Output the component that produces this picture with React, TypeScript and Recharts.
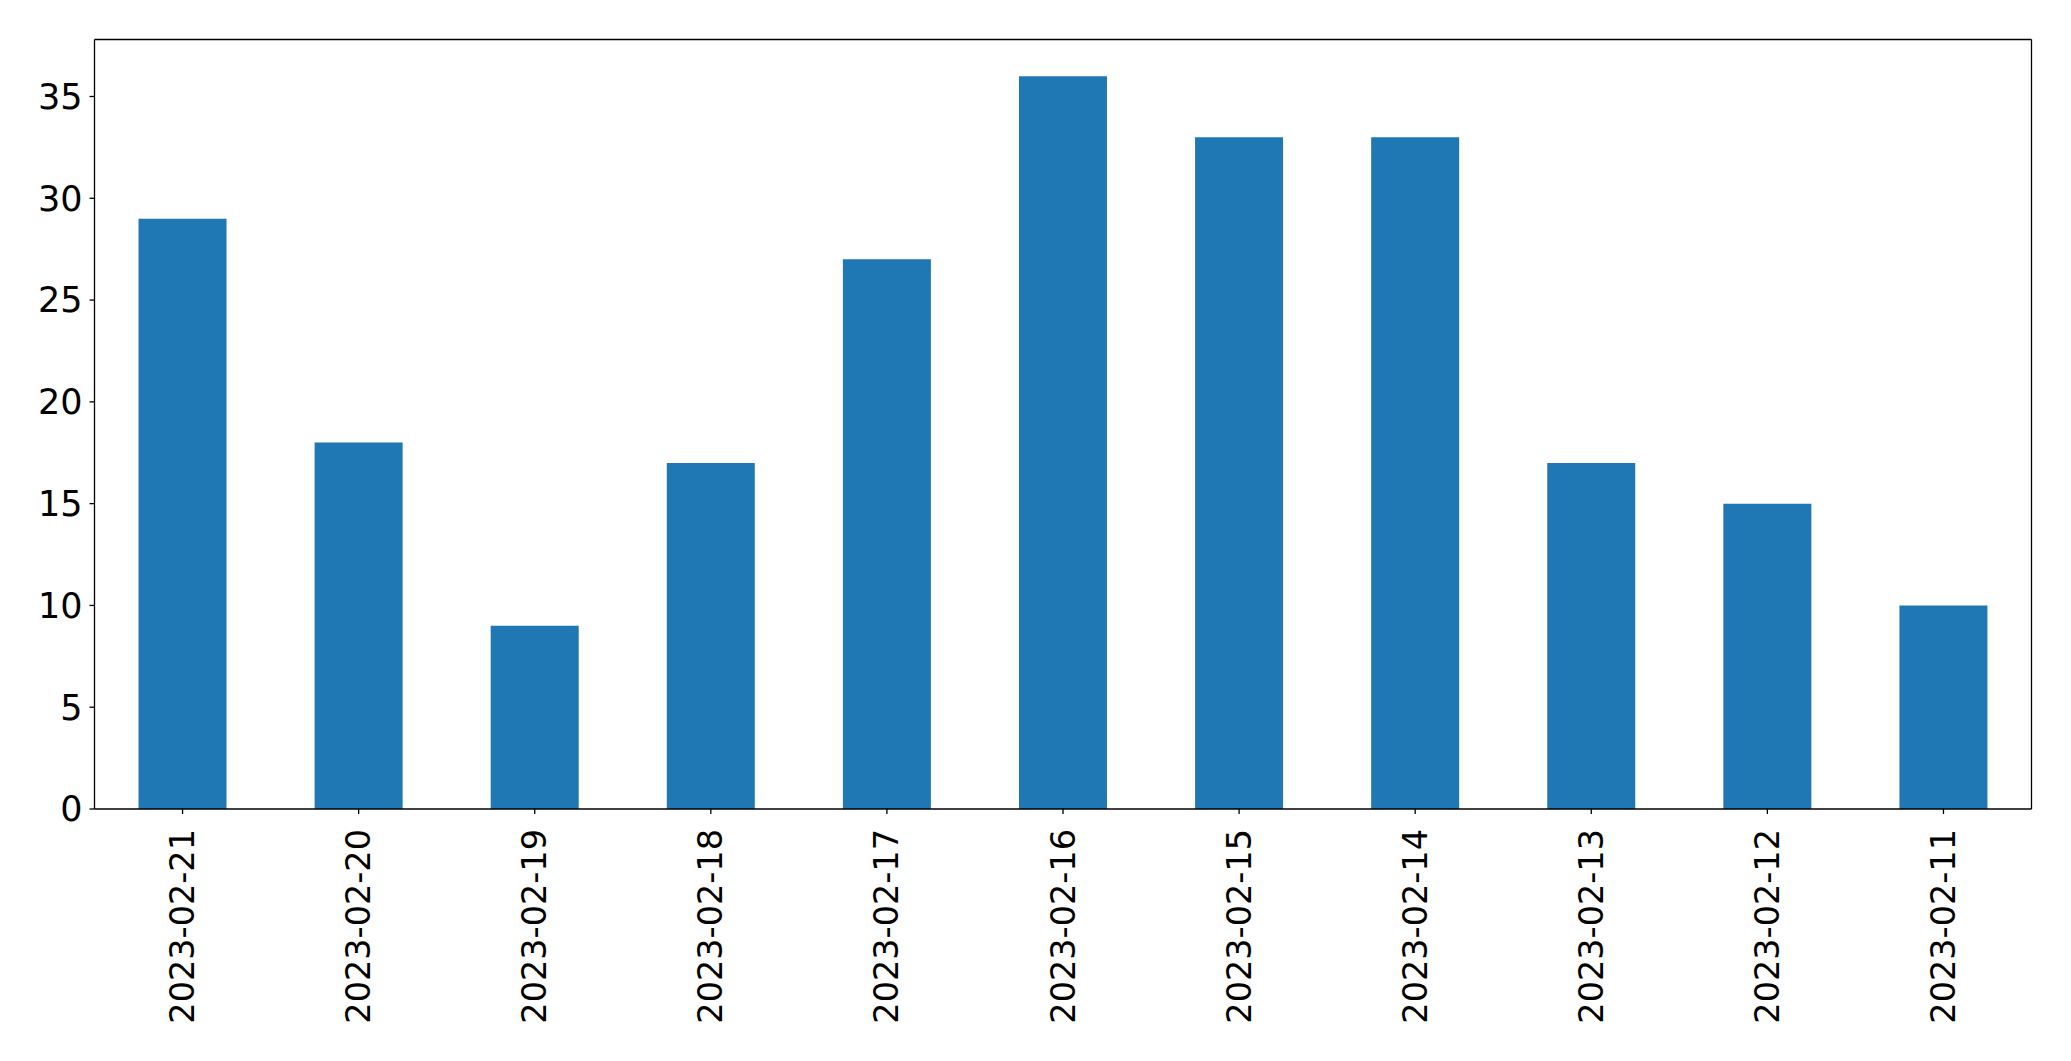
import React from 'react';
import { BarChart, Bar, XAxis, YAxis } from 'recharts';

const dates = [
  '2023-02-21', '2023-02-20', '2023-02-19', '2023-02-18', '2023-02-17', '2023-02-16',
  '2023-02-15', '2023-02-14', '2023-02-13', '2023-02-12', '2023-02-11',
];
const counts = [29, 18, 9, 17, 27, 36, 33, 33, 17, 15, 10];
const yTicks = [0, 5, 10, 15, 20, 25, 30, 35];

const FONT = '"DejaVu Sans", sans-serif';

const DateTick = (props: any) => {
  const { x, y, payload } = props;
  return (
    <text
      transform={`translate(${x},${y + 13}) rotate(-90)`}
      textAnchor="end"
      dominantBaseline="central"
      fontSize={33.5}
      fontFamily={FONT}
      fill="#000"
    >
      {payload.value}
    </text>
  );
};

const App: React.FC = () => {
  const data = dates.map((d, i) => ({ date: d, count: counts[i] }));
  const axisStroke = { stroke: '#000', strokeWidth: 1.3 };

  return (
    <div style={{ position: 'absolute', left: 0, top: 0, background: '#fff' }}>
      <BarChart
        width={2071}
        height={1061}
        data={data}
        margin={{ top: 29.5, right: 29.5, bottom: 0, left: 0 }}
        barCategoryGap="25%"
      >
        <XAxis
          dataKey="date"
          height={252}
          interval={0}
          tick={<DateTick />}
          tickSize={5}
          tickLine={axisStroke}
          axisLine={axisStroke}
        />
        {/* top and right spines */}
        <XAxis
          xAxisId="top"
          dataKey="date"
          orientation="top"
          height={10}
          tick={false}
          tickLine={false}
          axisLine={axisStroke}
        />
        <YAxis
          width={94.5}
          domain={[0, 37.8]}
          ticks={yTicks}
          allowDataOverflow
          tickSize={5}
          tickMargin={7}
          tickLine={axisStroke}
          axisLine={axisStroke}
          tick={{ fontSize: 35, fontFamily: FONT, fill: '#000' }}
        />
        <YAxis
          yAxisId="right"
          orientation="right"
          width={10}
          domain={[0, 37.8]}
          tick={false}
          tickLine={false}
          axisLine={axisStroke}
        />
        <Bar dataKey="count" fill="#1f77b4" isAnimationActive={false} />
      </BarChart>
    </div>
  );
};

export default App;
